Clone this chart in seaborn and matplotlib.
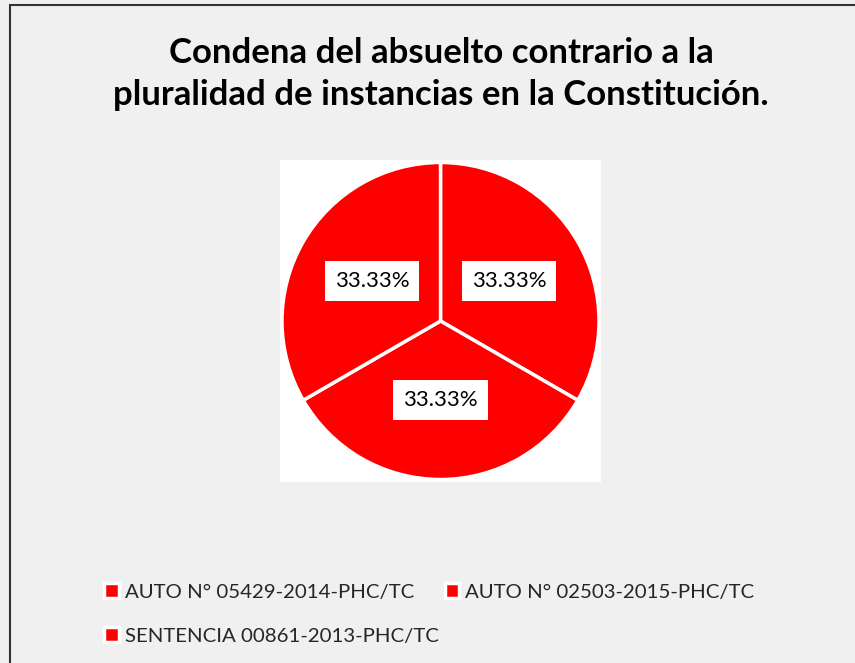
import matplotlib
matplotlib.use("Agg")
import matplotlib.pyplot as plt
from matplotlib.patches import Patch, Rectangle
import seaborn as sns

# data
labels = ["AUTO N° 05429-2014-PHC/TC", "AUTO N° 02503-2015-PHC/TC", "SENTENCIA 00861-2013-PHC/TC"]
values = [1, 1, 1]
title = "Condena del absuelto contrario a la\npluralidad de instancias en la Constitución."

sns.set_style("white")
plt.rcParams['font.family'] = ['Lato', 'DejaVu Sans']
colors = sns.color_palette(["#FF0000"] * len(values))

W, H = 855, 663
fig = plt.figure(figsize=(W / 100, H / 100), dpi=100, facecolor="#F0F0F0")

# chart border (cut off at right/bottom like the source)
fig.patches.append(Rectangle((10 / W, -0.02), 1.0, 1 - 5 / H + 0.02, transform=fig.transFigure,
                             fill=False, edgecolor="#333333", linewidth=1.5))

fig.text(441 / W, 1 - 74 / H, title, ha="center", va="center", fontsize=25,
         fontweight="bold", linespacing=1.42, color="black")

ax = fig.add_axes([280 / W, 1 - 482 / H, 321 / W, 322 / H])

wedges, texts, autotexts = ax.pie(values, colors=colors, startangle=90, counterclock=False,
                                  autopct="%.2f%%", pctdistance=0.5,
                                  wedgeprops=dict(edgecolor="white", linewidth=2.5))
ax.set_frame_on(True)
ax.set_facecolor("white")
for s in ax.spines.values():
    s.set_visible(False)
ax.set_xticks([])
ax.set_yticks([])
for t in autotexts:
    t.set_fontsize(16)
    t.set_color("black")
    t.set_bbox(dict(boxstyle="square,pad=0.45", facecolor="white", edgecolor="none"))
lim = 161 / 159
ax.set_xlim(-lim, lim)
ax.set_ylim(-lim, lim)

handles = [Patch(facecolor=c, edgecolor="white", linewidth=2.5) for c in colors]
order = [0, 2, 1]
fig.legend([handles[i] for i in order], [labels[i] for i in order], ncol=2,
           loc="upper left", bbox_to_anchor=(86 / W, 1 - 565 / H), frameon=False,
           fontsize=14.7, handlelength=0.72, handleheight=0.72, handletextpad=0.28,
           columnspacing=0.3, labelspacing=1.3)

fig.savefig("out.png", dpi=100, facecolor=fig.get_facecolor())
